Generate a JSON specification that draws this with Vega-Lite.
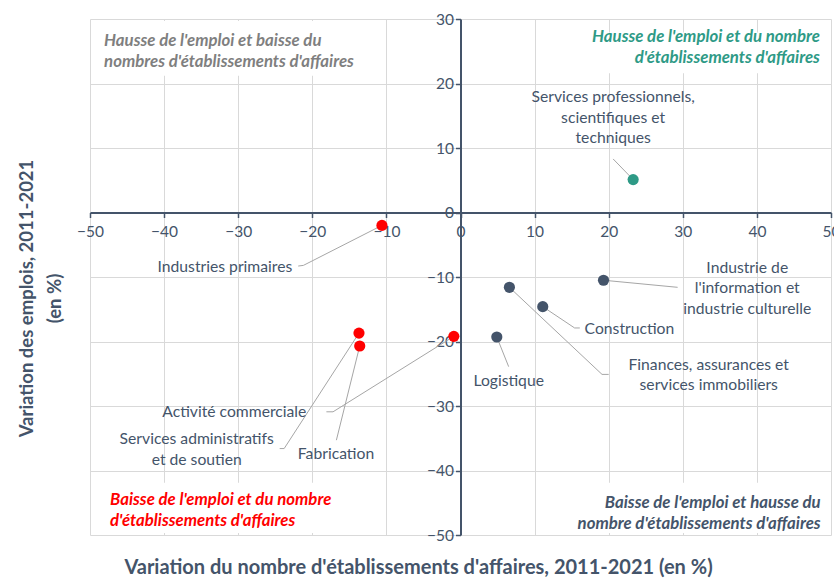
{
  "$schema": "https://vega.github.io/schema/vega-lite/v6.json",
  "width": 741,
  "height": 516,
  "autosize": "none",
  "padding": {"left": 90, "top": 19, "right": 3, "bottom": 43},
  "background": "white",
  "config": {"view": {"stroke": null}, "font": "Lato"},
  "datasets": {
    "points": [
      {"secteur": "Services professionnels, scientifiques et techniques", "x": 23.3, "y": 5.1, "groupe": "hausse"},
      {"secteur": "Industries primaires", "x": -10.6, "y": -2.0, "groupe": "baisse"},
      {"secteur": "Services administratifs et de soutien", "x": -13.7, "y": -18.7, "groupe": "baisse"},
      {"secteur": "Fabrication", "x": -13.6, "y": -20.7, "groupe": "baisse"},
      {"secteur": "Activité commerciale", "x": -0.9, "y": -19.2, "groupe": "baisse"},
      {"secteur": "Logistique", "x": 4.9, "y": -19.3, "groupe": "mixte"},
      {"secteur": "Finances, assurances et services immobiliers", "x": 6.6, "y": -11.6, "groupe": "mixte"},
      {"secteur": "Construction", "x": 11.1, "y": -14.6, "groupe": "mixte"},
      {"secteur": "Industrie de l'information et industrie culturelle", "x": 19.3, "y": -10.5, "groupe": "mixte"}
    ],
    "leaders": [
      {"id": "SP", "k": 1, "x": 23.3, "y": 5.1}, {"id": "SP", "k": 2, "x": 20.6, "y": 8.3},
      {"id": "IP", "k": 1, "x": -10.6, "y": -2.0}, {"id": "IP", "k": 2, "x": -21.2, "y": -8.2}, {"id": "IP", "k": 3, "x": -21.9, "y": -8.3},
      {"id": "SA", "k": 1, "x": -13.7, "y": -18.7}, {"id": "SA", "k": 2, "x": -23.8, "y": -36.6}, {"id": "SA", "k": 3, "x": -24.4, "y": -36.6},
      {"id": "FA", "k": 1, "x": -13.6, "y": -20.7}, {"id": "FA", "k": 2, "x": -16.75, "y": -35.3},
      {"id": "AC", "k": 1, "x": -0.9, "y": -19.2}, {"id": "AC", "k": 2, "x": -17.2, "y": -30.9}, {"id": "AC", "k": 3, "x": -18.1, "y": -30.9},
      {"id": "LO", "k": 1, "x": 4.9, "y": -19.3}, {"id": "LO", "k": 2, "x": 6.5, "y": -23.9},
      {"id": "CO", "k": 1, "x": 11.1, "y": -14.6}, {"id": "CO", "k": 2, "x": 15.4, "y": -17.9}, {"id": "CO", "k": 3, "x": 16.1, "y": -17.9},
      {"id": "FI", "k": 1, "x": 6.6, "y": -11.6}, {"id": "FI", "k": 2, "x": 19.1, "y": -25.1}, {"id": "FI", "k": 3, "x": 20.0, "y": -25.1},
      {"id": "II", "k": 1, "x": 19.3, "y": -10.5}, {"id": "II", "k": 2, "x": 29.3, "y": -11.6}
    ],
    "labels": [
      {"texte": ["Services professionnels,", "scientifiques et", "techniques"], "x": 20.6, "y": 17.9, "ancrage": "center"},
      {"texte": "Industries primaires", "x": -22.7, "y": -8.5, "ancrage": "right"},
      {"texte": "Activité commerciale", "x": -20.8, "y": -30.9, "ancrage": "right"},
      {"texte": ["Services administratifs", "et de soutien"], "x": -35.6, "y": -35.15, "ancrage": "center"},
      {"texte": "Fabrication", "x": -16.8, "y": -37.4, "ancrage": "center"},
      {"texte": "Logistique", "x": 6.5, "y": -26.1, "ancrage": "center"},
      {"texte": "Construction", "x": 16.75, "y": -18.0, "ancrage": "left"},
      {"texte": ["Finances, assurances et", "services immobiliers"], "x": 33.5, "y": -23.6, "ancrage": "center"},
      {"texte": ["Industrie de", "l'information et", "industrie culturelle"], "x": 38.7, "y": -8.6, "ancrage": "center"}
    ],
    "quadrants": [
      {"texte": ["Hausse de l'emploi et baisse du", "nombres d'établissements d'affaires"], "x": -48.1, "y": 26.6, "ancrage": "left", "groupe": "neutre"},
      {"texte": ["Hausse de l'emploi et du nombre", "d'établissements d'affaires"], "x": 48.5, "y": 27.2, "ancrage": "right", "groupe": "hausse"},
      {"texte": ["Baisse de l'emploi et du nombre", "d'établissements d'affaires"], "x": -47.3, "y": -44.5, "ancrage": "left", "groupe": "baisse"},
      {"texte": ["Baisse de l'emploi et hausse du", "nombre d'établissements d'affaires"], "x": 48.6, "y": -45.0, "ancrage": "right", "groupe": "mixte"}
    ],
    "cadres": [
      {"x": -49.7, "x2": -13, "y": 29.7, "y2": 21.2},
      {"x": 17.4, "x2": 49.8, "y": 27.9, "y2": 21.6},
      {"x": -49.7, "x2": -12, "y": -41.9, "y2": -49.7},
      {"x": 11.3, "x2": 49.8, "y": -41.9, "y2": -49.7}
    ]
  },
  "resolve": {"axis": {"x": "independent", "y": "independent"}},
  "layer": [
    {
      "data": {"name": "cadres"},
      "mark": {"type": "rect", "fill": "white", "stroke": null},
      "encoding": {
        "x": {"field": "x", "type": "quantitative",
          "scale": {"domain": [-50, 50], "nice": false, "zero": false},
          "axis": {"orient": "bottom", "values": [-50, -40, -30, -20, -10, 0, 10, 20, 30, 40, 50],
            "grid": true, "gridColor": "#D9D9D9", "gridWidth": 1, "domain": false, "ticks": false, "labels": false,
            "title": "Variation du nombre d'établissements d'affaires, 2011-2021 (en %)",
            "titleFontSize": 20, "titleFontWeight": "bold", "titleColor": "#44546A",
            "titleX": 328, "titleY": 32, "titleBaseline": "middle"}},
        "x2": {"field": "x2"},
        "y": {"field": "y", "type": "quantitative",
          "scale": {"domain": [-50, 30], "nice": false, "zero": false},
          "axis": {"orient": "left", "values": [-50, -40, -30, -20, -10, 0, 10, 20, 30],
            "grid": true, "gridColor": "#D9D9D9", "gridWidth": 1, "domain": false, "ticks": false, "labels": false,
            "title": ["Variation des emplois, 2011-2021", "(en %)"],
            "titleFontSize": 18.5, "titleFontWeight": "bold", "titleColor": "#44546A",
            "titleLineHeight": 28, "titleX": -54, "titleY": 279}},
        "y2": {"field": "y2"}
      }
    },
    {
      "data": {"name": "leaders"},
      "mark": {"type": "line", "color": "#A6A6A6", "strokeWidth": 1},
      "encoding": {
        "x": {"field": "x", "type": "quantitative", "axis": null},
        "y": {"field": "y", "type": "quantitative", "axis": null},
        "detail": {"field": "id"},
        "order": {"field": "k", "type": "quantitative"}
      }
    },
    {
      "data": {"name": "points"},
      "mark": {"type": "circle", "size": 125, "opacity": 1},
      "encoding": {
        "x": {"field": "x", "type": "quantitative",
          "axis": {"orient": "bottom", "offset": -322.5, "values": [-50, -40, -30, -20, -10, 0, 10, 20, 30, 40, 50],
            "grid": false, "domain": true, "domainColor": "#44546A", "domainWidth": 2,
            "ticks": true, "tickColor": "#44546A", "tickWidth": 1.5, "tickSize": 5,
            "labelFontSize": 15.5, "labelColor": "#44546A", "labelPadding": 7, "labelFlush": false, "labelOverlap": false,
            "title": null}},
        "y": {"field": "y", "type": "quantitative",
          "axis": {"orient": "left", "offset": -370.5, "values": [-50, -40, -30, -20, -10, 0, 10, 20, 30],
            "grid": false, "domain": true, "domainColor": "#44546A", "domainWidth": 2,
            "ticks": true, "tickColor": "#44546A", "tickWidth": 1.5, "tickSize": 5,
            "labelFontSize": 15.5, "labelColor": "#44546A", "labelPadding": 2, "labelFlush": false, "labelOverlap": false,
            "title": null}},
        "color": {"field": "groupe", "type": "nominal",
          "scale": {"domain": ["hausse", "baisse", "mixte", "neutre"], "range": ["#2E9A86", "#FF0000", "#44546A", "#7F7F7F"]},
          "legend": null}
      }
    },
    {
      "data": {"name": "labels"},
      "transform": [{"filter": "datum.ancrage === 'center'"}],
      "mark": {"type": "text", "align": "center", "baseline": "middle", "fontSize": 15.7, "lineHeight": 20.5, "color": "#44546A"},
      "encoding": {
        "x": {"field": "x", "type": "quantitative", "axis": null},
        "y": {"field": "y", "type": "quantitative", "axis": null},
        "text": {"field": "texte"}
      }
    },
    {
      "data": {"name": "labels"},
      "transform": [{"filter": "datum.ancrage === 'right'"}],
      "mark": {"type": "text", "align": "right", "baseline": "middle", "fontSize": 15.7, "lineHeight": 20.5, "color": "#44546A"},
      "encoding": {
        "x": {"field": "x", "type": "quantitative", "axis": null},
        "y": {"field": "y", "type": "quantitative", "axis": null},
        "text": {"field": "texte"}
      }
    },
    {
      "data": {"name": "labels"},
      "transform": [{"filter": "datum.ancrage === 'left'"}],
      "mark": {"type": "text", "align": "left", "baseline": "middle", "fontSize": 15.7, "lineHeight": 20.5, "color": "#44546A"},
      "encoding": {
        "x": {"field": "x", "type": "quantitative", "axis": null},
        "y": {"field": "y", "type": "quantitative", "axis": null},
        "text": {"field": "texte"}
      }
    },
    {
      "data": {"name": "quadrants"},
      "transform": [{"filter": "datum.ancrage === 'left'"}],
      "mark": {"type": "text", "align": "left", "baseline": "middle", "fontSize": 16.8, "fontWeight": "bold", "fontStyle": "italic", "lineHeight": 21},
      "encoding": {
        "x": {"field": "x", "type": "quantitative", "axis": null},
        "y": {"field": "y", "type": "quantitative", "axis": null},
        "text": {"field": "texte"},
        "color": {"field": "groupe", "type": "nominal", "legend": null}
      }
    },
    {
      "data": {"name": "quadrants"},
      "transform": [{"filter": "datum.ancrage === 'right'"}],
      "mark": {"type": "text", "align": "right", "baseline": "middle", "fontSize": 16.8, "fontWeight": "bold", "fontStyle": "italic", "lineHeight": 21},
      "encoding": {
        "x": {"field": "x", "type": "quantitative", "axis": null},
        "y": {"field": "y", "type": "quantitative", "axis": null},
        "text": {"field": "texte"},
        "color": {"field": "groupe", "type": "nominal", "legend": null}
      }
    }
  ]
}
